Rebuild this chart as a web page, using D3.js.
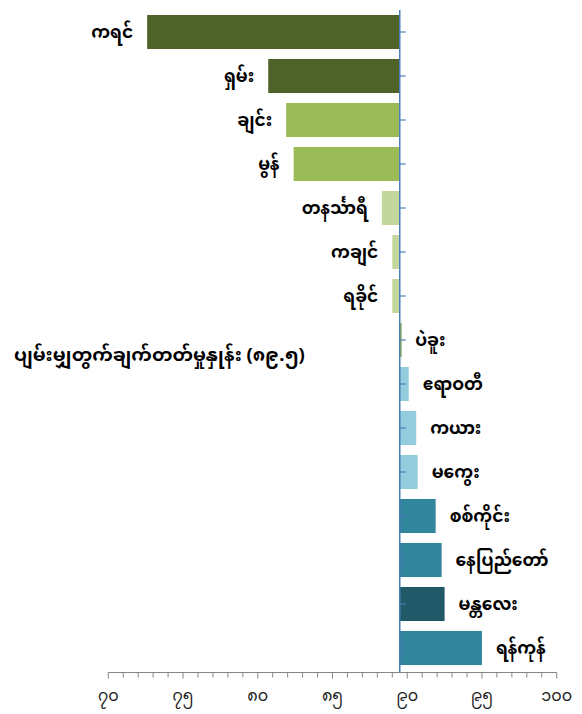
<!DOCTYPE html>
<html><head><meta charset="utf-8">
<script src="https://cdn.jsdelivr.net/npm/d3@7"></script>
<style>
body{margin:0;background:#fff;}
text{font-family:"Noto Sans Myanmar","Padauk","Myanmar Text","Myanmar3",sans-serif;}
</style></head>
<body><svg id="c" width="582" height="714"></svg>
<script>
const categories = ["ကရင်","ရှမ်း","ချင်း","မွန်","တနင်္သာရီ","ကချင်","ရခိုင်","ပဲခူး","ဧရာဝတီ","ကယား","မကွေး","စစ်ကိုင်း","နေပြည်တော်","မန္တလေး","ရန်ကုန်"];
const values = [72.6, 80.7, 81.9, 82.4, 88.3, 89.0, 89.0, 89.6, 90.1, 90.6, 90.7, 91.9, 92.3, 92.5, 95.0];
const tiers = ["g1","g1","g2","g2","g3","g3","g3","g2","b3","b3","b3","b2","b2","b1","b2"];
const average = 89.5;
const averageLabel = "ပျမ်းမျှတွက်ချက်တတ်မှုနှုန်း (၈၉.၅)";
const tickValues = [70,75,80,85,90,95,100];
const tierNames = ["g1","g2","g3","b3","b2","b1"];
const tierColors = ["#4f6228","#9bbb59","#c3d69b","#93cddd","#31859c","#215968"];

const mmDigits = "၀၁၂၃၄၅၆၇၈၉";
const toMM = n => String(n).replace(/[0-9]/g, d => mmDigits[+d]);

const svg = d3.select("#c");
const x = d3.scaleLinear().domain([70,100]).range([108.3,556.7]);
const y = d3.scaleBand().domain(categories).range([10,670]).paddingInner(0.227).paddingOuter(0.1135);
const color = d3.scaleOrdinal().domain(tierNames).range(tierColors);
const data = categories.map((c,i)=>({c, v:values[i], t:tiers[i]}));

// bars
svg.append("g").selectAll("rect").data(data).join("rect")
  .attr("x", d => Math.min(x(d.v), x(average)))
  .attr("y", d => y(d.c))
  .attr("width", d => Math.max(Math.abs(x(d.v) - x(average)), 2))
  .attr("height", y.bandwidth())
  .attr("fill", d => color(d.t));

// labels
svg.append("g").selectAll("text").data(data).join("text")
  .attr("x", d => d.v < average ? x(d.v) - 14 : x(d.v) + 14)
  .attr("y", d => y(d.c) + y.bandwidth()/2)
  .attr("dy", "0.35em")
  .attr("text-anchor", d => d.v < average ? "end" : "start")
  .attr("font-size", 17)
  .attr("font-weight", "bold")
  .attr("fill", "#000")
  .text(d => d.c);

// x axis
const minor = d3.range(70,101,1);
const ax = svg.append("g").attr("transform","translate(0,672.5)");
ax.append("line").attr("x1", x(70)).attr("x2", x(100)).attr("stroke","#868686").attr("stroke-width",1);
ax.selectAll("line.t").data(minor).join("line").attr("class","t")
  .attr("x1", d=>x(d)).attr("x2", d=>x(d)).attr("y1",0).attr("y2", d => d%5===0 ? 6 : 5)
  .attr("stroke","#868686").attr("stroke-width",1);
ax.selectAll("text").data(tickValues).join("text")
  .attr("x", d=>x(d)).attr("y", 28).attr("text-anchor","middle")
  .attr("font-size", 16).attr("fill","#222").text(d=>toMM(d));

// baseline axis
const bx = x(average);
svg.append("line").attr("x1",bx).attr("x2",bx).attr("y1",10).attr("y2",672)
  .attr("stroke","#4a7ebb").attr("stroke-width",1.5);
svg.append("g").selectAll("line").data(categories).join("line")
  .attr("x1",bx).attr("x2",bx+6)
  .attr("y1", d=>y(d)+y.bandwidth()/2).attr("y2", d=>y(d)+y.bandwidth()/2)
  .attr("stroke","#4a7ebb").attr("stroke-width",1.2);

// average label
svg.append("text").attr("x",14).attr("y",355).attr("dy","0.35em")
  .attr("font-size",18.5).attr("font-weight","bold").attr("fill","#000").text(averageLabel);
</script></body></html>
